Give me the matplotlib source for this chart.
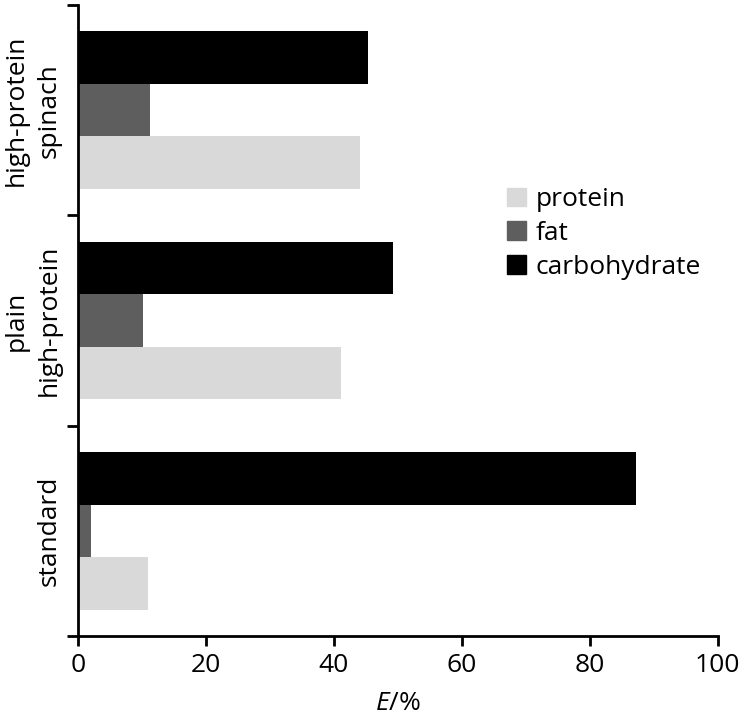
import numpy as np
import matplotlib
matplotlib.use("Agg")
import matplotlib.pyplot as plt
from matplotlib.patches import Patch

plt.rcParams['font.family'] = ['Open Sans', 'DejaVu Sans']
plt.rcParams['mathtext.fontset'] = 'custom'
plt.rcParams['mathtext.rm'] = 'Open Sans'
plt.rcParams['mathtext.it'] = 'Open Sans:italic'

# diets, bottom to top
diets = ["standard", "plain\nhigh-protein", "high-protein\nspinach"]
protein = [10.9, 41.1, 44.1]
fat = [2.1, 10.2, 11.2]
carbohydrate = [87.3, 49.3, 45.3]
xticks = [0, 20, 40, 60, 80, 100]

fig = plt.figure(figsize=(7.43, 7.16), dpi=100)
ax = fig.add_axes([0.105, 0.1117, 0.861, 0.8813])

y = np.arange(len(diets))
h = 0.25
ax.barh(y - h, protein, height=h, color="#d9d9d9", label="protein")
ax.barh(y, fat, height=h, color="#5e5e5e", label="fat")
ax.barh(y + h, carbohydrate, height=h, color="#000000", label="carbohydrate")

ax.set_xlim(0, 100)
ax.set_ylim(-0.5, 2.5)
ax.set_xticks(xticks)
ax.tick_params(axis="x", labelsize=19, length=7.5, width=2, pad=5)

ax.set_yticks(y)
ax.set_yticklabels(diets, rotation=90, va="center", ma="center", fontsize=19,
                   linespacing=1.4)
ax.tick_params(axis="y", which="major", length=0, pad=12)
ax.set_yticks([-0.5, 0.5, 1.5, 2.5], minor=True)
ax.tick_params(axis="y", which="minor", length=8, width=2)

for s in ["top", "right"]:
    ax.spines[s].set_visible(False)
for s in ["left", "bottom"]:
    ax.spines[s].set_linewidth(2)

ax.set_xlabel(r"$\mathit{E}$/%", fontsize=19, labelpad=9)

handles = [Patch(color="#d9d9d9"), Patch(color="#5e5e5e"), Patch(color="#000000")]
ax.legend(handles, ["protein", "fat", "carbohydrate"], loc="upper left",
          bbox_to_anchor=(0.654, 0.728), frameon=False, fontsize=19,
          handlelength=0.72, handleheight=0.72, handletextpad=0.38,
          labelspacing=0.33, borderaxespad=0)

fig.savefig("out.png", dpi=100)
